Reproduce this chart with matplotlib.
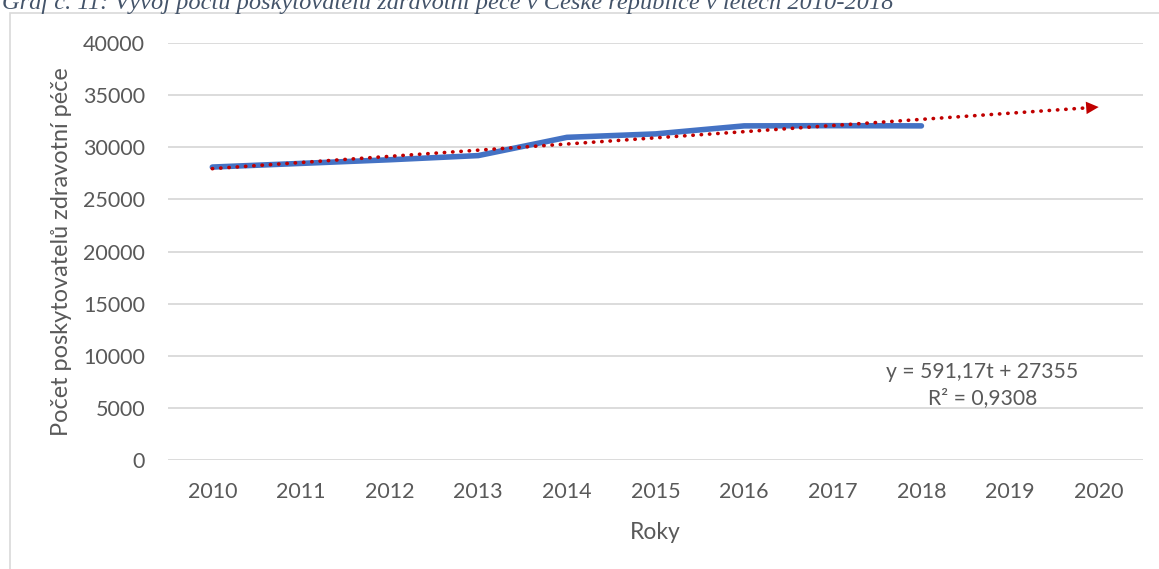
import numpy as np
import matplotlib
matplotlib.use("Agg")
import matplotlib.pyplot as plt
from matplotlib.patches import Rectangle

# data
roky = ['2010', '2011', '2012', '2013', '2014', '2015', '2016', '2017', '2018', '2019', '2020']
pocet = [28100, 28450, 28800, 29200, 30950, 31280, 32050, 32070, 32050]
trend_k = 591.17
trend_q = 27355
rovnice = "y = 591,17t + 27355\nR² = 0,9308"

plt.rcParams['font.family'] = ['Lato', 'DejaVu Sans']
seda = '#595959'

fig = plt.figure(figsize=(11.59, 5.69), dpi=100)
W, H = 1159, 569

# chart frame
fig.patches.append(Rectangle((10 / W, -0.05), 1.05, 1 - 13 / H + 0.05,
                             transform=fig.transFigure, fill=False,
                             edgecolor='#d9d9d9', lw=1.2))

# caption (cut off at the top, as in the source)
fig.text(2 / W, 1 - 9 / H,
         "Graf č. 11: Vývoj počtu poskytovatelů zdravotní péče v České republice v letech 2010-2018",
         family=['Liberation Serif', 'DejaVu Serif'], style='italic', fontsize=17.6,
         color='#44546A', va='baseline', ha='left')

ax = fig.add_axes([168 / W, 1 - 460 / H, (1143 - 168) / W, (460 - 43) / H])

x = np.arange(len(pocet))
ax.plot(x, pocet, color='#4472C4', lw=4, solid_capstyle='round', zorder=3)

# linear trend with forecast to 2020
t = np.arange(1, len(roky) + 1)
xt = np.linspace(0, len(roky) - 1 - 0.12, 200)
yt = trend_k * (xt + 1) + trend_q
ax.plot(xt, yt, color='#C00000', lw=2.6, linestyle=(0, (0.1, 2.2)),
        dash_capstyle='round', zorder=4)
x_end = len(roky) - 1
ax.annotate('', xy=(x_end, trend_k * t[-1] + trend_q),
            xytext=(x_end - 0.2, trend_k * (t[-1] - 0.2) + trend_q),
            arrowprops=dict(arrowstyle='-|>,head_length=0.9,head_width=0.45',
                            color='#C00000', lw=0, shrinkA=0, shrinkB=0),
            zorder=5)

ax.text(8.69, 7200, rovnice, ha='center', va='center', fontsize=15.2,
        color=seda, linespacing=1.4)

ax.set_xlim(-0.5, len(roky) - 0.5)
ax.set_ylim(0, 40000)
ax.set_yticks(np.arange(0, 40001, 5000))
ax.set_xticks(np.arange(len(roky)))
ax.set_xticklabels(roky)
ax.grid(axis='y', color='#d9d9d9', lw=1.3)
ax.set_axisbelow(True)
for s in ax.spines.values():
    s.set_visible(False)
ax.tick_params(length=0, labelsize=15.5, colors=seda)
ax.tick_params(axis='x', pad=16)
ax.tick_params(axis='y', pad=16.5)

ax.set_xlabel("Roky", fontsize=16.5, color=seda, labelpad=14)
ax.set_ylabel("Počet poskytovatelů zdravotní péče", fontsize=16.9, color=seda, labelpad=8)

fig.savefig('out.png', dpi=100)
